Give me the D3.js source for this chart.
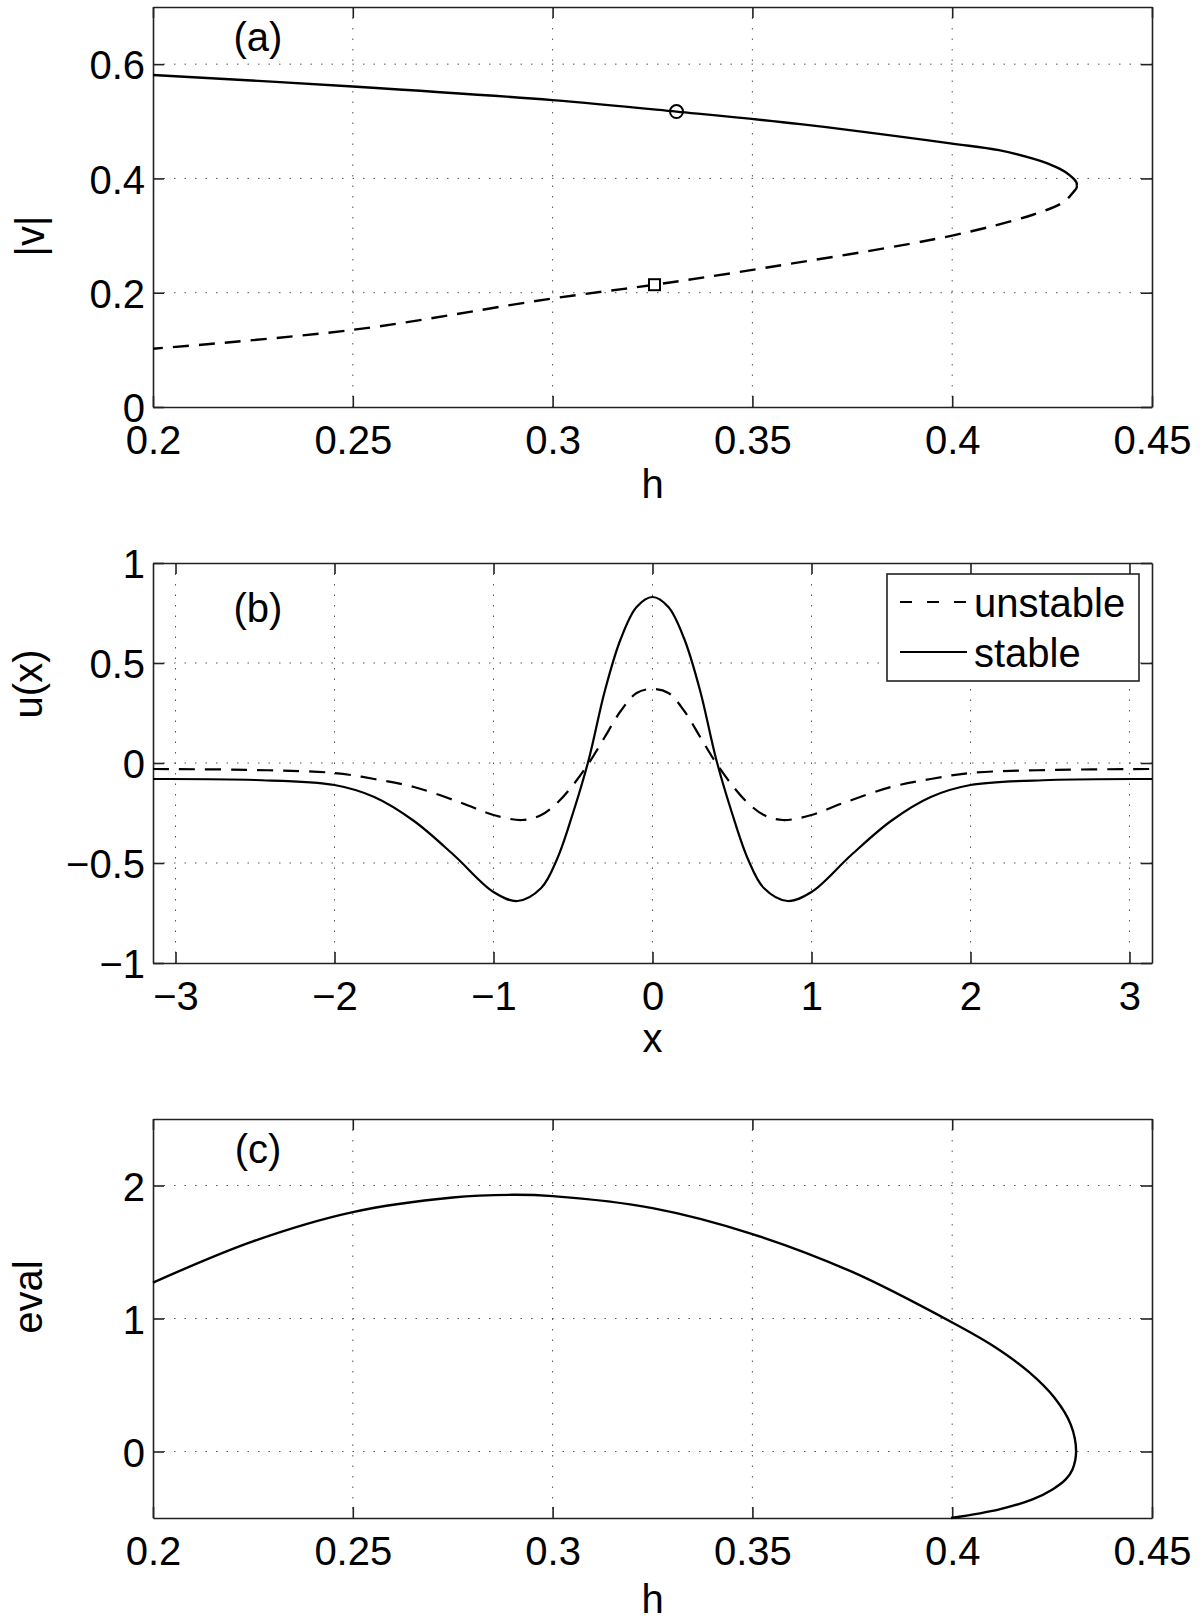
<!DOCTYPE html>
<html><head><meta charset="utf-8">
<script src="https://cdn.jsdelivr.net/npm/d3@7"></script>
<style>
html,body{margin:0;padding:0;background:#fff;}
svg{display:block;}
text{font-family:"Liberation Sans",Arial,Helvetica,sans-serif;fill:#000;}
</style></head><body>
<svg id="chart" width="1200" height="1621"></svg>
<script>
// ---- data ----
// panel (a): |v| versus h
const stableH = [0.2, 0.25, 0.3, 0.331, 0.362, 0.4, 0.4117, 0.42, 0.425, 0.4284, 0.4303, 0.4311, 0.4312];
const stableV = [0.581, 0.561, 0.537, 0.517, 0.495, 0.461, 0.4495, 0.435, 0.423, 0.411, 0.400, 0.393, 0.388];
const unstableH = [0.4312, 0.4311, 0.4303, 0.4292, 0.427, 0.42, 0.4, 0.35, 0.3255, 0.3, 0.25, 0.2];
const unstableV = [0.388, 0.383, 0.376, 0.367, 0.355, 0.336, 0.30, 0.24, 0.214, 0.19, 0.135, 0.102];
const markerCircle = [0.331, 0.517];
const markerSquare = [0.3255, 0.214];
const ticksA_x = [0.2, 0.25, 0.3, 0.35, 0.4, 0.45];
const ticksA_y = [0, 0.2, 0.4, 0.6];

// panel (b): u(x) profiles
const profX = [-3.1416, -2.5, -2, -1.75, -1.5, -1.25, -1, -0.85, -0.7, -0.6, -0.5, -0.4, -0.3, -0.2, -0.1, 0,
               0.1, 0.2, 0.3, 0.4, 0.5, 0.6, 0.7, 0.85, 1, 1.25, 1.5, 1.75, 2, 2.5, 3.1416];
const stableU = [-0.08, -0.085, -0.11, -0.17, -0.29, -0.46, -0.645, -0.69, -0.625, -0.48, -0.25, 0.02, 0.36, 0.62, 0.78, 0.83,
                 0.78, 0.62, 0.36, 0.02, -0.25, -0.48, -0.625, -0.69, -0.645, -0.46, -0.29, -0.17, -0.11, -0.085, -0.08];
const unstableX = [-3.1416, -2.5, -2, -1.75, -1.5, -1.2, -1, -0.82, -0.7, -0.6, -0.5, -0.4, -0.3, -0.2, -0.1, 0,
                   0.1, 0.2, 0.3, 0.4, 0.5, 0.6, 0.7, 0.82, 1, 1.2, 1.5, 1.75, 2, 2.5, 3.1416];
const unstableU = [-0.03, -0.035, -0.05, -0.08, -0.12, -0.2, -0.26, -0.285, -0.26, -0.2, -0.11, 0.0, 0.13, 0.26, 0.35, 0.37,
                   0.35, 0.26, 0.13, 0.0, -0.11, -0.2, -0.26, -0.285, -0.26, -0.2, -0.12, -0.08, -0.05, -0.035, -0.03];
const ticksB_x = [-3, -2, -1, 0, 1, 2, 3];
const ticksB_y = [-1, -0.5, 0, 0.5, 1];
const legendLabels = ["unstable", "stable"];

// panel (c): eigenvalue versus h
const evalH = [0.2, 0.225, 0.25, 0.275, 0.29, 0.3, 0.325, 0.35, 0.375, 0.4, 0.4099, 0.4191, 0.4257, 0.4297, 0.431,
               0.4301, 0.4284, 0.4251, 0.4201, 0.4118, 0.3997];
const evalV = [1.27, 1.58, 1.80, 1.91, 1.93, 1.92, 1.83, 1.635, 1.35, 0.97, 0.8, 0.6, 0.4, 0.2, 0,
               -0.135, -0.21, -0.285, -0.36, -0.435, -0.5];
const ticksC_x = [0.2, 0.25, 0.3, 0.35, 0.4, 0.45];
const ticksC_y = [0, 1, 2];

// ---- drawing ----
const svg = d3.select("#chart");
const FS = 40;
const L = 153, R = 1152;
const fmt = v => String(v).replace("-", "\u2212");

function panel(cfg) {
  const g = svg.append("g");
  const x = d3.scaleLinear().domain(cfg.xd).range([L, R]);
  const y = d3.scaleLinear().domain(cfg.yd).range([cfg.bottom, cfg.top]);
  // dotted grid
  const grid = g.append("g").attr("stroke", "#555").attr("stroke-width", 1).attr("stroke-dasharray", "1.5,9");
  cfg.xt.forEach(t => { if (Math.abs(x(t) - L) > 2 && Math.abs(x(t) - R) > 2)
    grid.append("line").attr("x1", x(t)).attr("x2", x(t)).attr("y1", cfg.top).attr("y2", cfg.bottom); });
  cfg.yt.forEach(t => { if (Math.abs(y(t) - cfg.top) > 2 && Math.abs(y(t) - cfg.bottom) > 2)
    grid.append("line").attr("x1", L).attr("x2", R).attr("y1", y(t)).attr("y2", y(t)); });
  // boxed axes with inward ticks
  const axB = d3.axisBottom(x).tickValues(cfg.xt).tickSizeInner(-11).tickSizeOuter(0).tickFormat(fmt);
  const axT = d3.axisTop(x).tickValues(cfg.xt).tickSizeInner(-11).tickSizeOuter(0).tickFormat("");
  const axL = d3.axisLeft(y).tickValues(cfg.yt).tickSizeInner(-11).tickSizeOuter(0).tickFormat(fmt);
  const axR = d3.axisRight(y).tickValues(cfg.yt).tickSizeInner(-11).tickSizeOuter(0).tickFormat("");
  const style = sel => { sel.selectAll("path,line").attr("stroke", "#222").attr("stroke-width", 1.6);
    sel.selectAll("text").attr("font-size", FS).attr("fill", "#000").attr("font-family", '"Liberation Sans",Arial,sans-serif'); };
  g.append("g").attr("transform", `translate(0,${cfg.bottom})`).call(axB).call(style)
    .selectAll(".tick text").attr("y", 47).attr("dy", 0);
  g.append("g").attr("transform", `translate(0,${cfg.top})`).call(axT).call(style);
  g.append("g").attr("transform", `translate(${L},0)`).call(axL).call(style)
    .selectAll(".tick text").attr("x", -8).attr("dy", "0.37em");
  g.append("g").attr("transform", `translate(${R},0)`).call(axR).call(style);
  // axis titles
  g.append("text").attr("x", (L + R) / 2).attr("y", cfg.xly).attr("text-anchor", "middle").attr("font-size", FS).text(cfg.xlabel);
  g.append("text").attr("transform", `translate(${cfg.ylx},${cfg.yly}) rotate(-90)`).attr("text-anchor", "middle").attr("font-size", FS).text(cfg.ylabel);
  // panel tag
  g.append("text").attr("x", 258).attr("y", cfg.tagy).attr("text-anchor", "middle").attr("font-size", FS).text(cfg.tag);
  return { g, x, y };
}

// Panel (a)
const A = panel({ xd: [0.2, 0.45], yd: [0, 0.7], top: 7, bottom: 407, xt: ticksA_x, yt: ticksA_y,
  xlabel: "h", xly: 498, ylabel: "|v|", ylx: 44, yly: 236, tag: "(a)", tagy: 51 });
const lineA = d3.line().x(d => A.x(d[0])).y(d => A.y(d[1])).curve(d3.curveCatmullRom.alpha(0.5));
A.g.append("path").attr("d", lineA(stableH.map((h, i) => [h, stableV[i]]))).attr("fill", "none").attr("stroke", "#000").attr("stroke-width", 2.4);
A.g.append("path").attr("d", lineA(unstableH.map((h, i) => [h, unstableV[i]]))).attr("fill", "none").attr("stroke", "#000").attr("stroke-width", 2.4).attr("stroke-dasharray", "16,10");
A.g.append("circle").attr("cx", A.x(markerCircle[0])).attr("cy", A.y(markerCircle[1])).attr("r", 6.5).attr("fill", "none").attr("stroke", "#000").attr("stroke-width", 2);
A.g.append("rect").attr("x", A.x(markerSquare[0]) - 5.5).attr("y", A.y(markerSquare[1]) - 5.5).attr("width", 11).attr("height", 11).attr("fill", "#fff").attr("stroke", "#000").attr("stroke-width", 2);

// Panel (b)
const B = panel({ xd: [-Math.PI, Math.PI], yd: [-1, 1], top: 563, bottom: 963, xt: ticksB_x, yt: ticksB_y,
  xlabel: "x", xly: 1052, ylabel: "u(x)", ylx: 42, yly: 684, tag: "(b)", tagy: 622 });
const lineB = d3.line().x(d => B.x(d[0])).y(d => B.y(d[1])).curve(d3.curveCatmullRom.alpha(0.5));
B.g.append("path").attr("d", lineB(unstableX.map((v, i) => [v, unstableU[i]]))).attr("fill", "none").attr("stroke", "#000").attr("stroke-width", 2.2).attr("stroke-dasharray", "16,10");
B.g.append("path").attr("d", lineB(profX.map((v, i) => [v, stableU[i]]))).attr("fill", "none").attr("stroke", "#000").attr("stroke-width", 2.2);
// legend
const lg = B.g.append("g");
lg.append("rect").attr("x", 887).attr("y", 574).attr("width", 252).attr("height", 107).attr("fill", "#fff").attr("stroke", "#222").attr("stroke-width", 1.6);
lg.append("line").attr("x1", 900).attr("x2", 967).attr("y1", 602).attr("y2", 602).attr("stroke", "#000").attr("stroke-width", 2).attr("stroke-dasharray", "12,15");
lg.append("line").attr("x1", 900).attr("x2", 967).attr("y1", 652).attr("y2", 652).attr("stroke", "#000").attr("stroke-width", 2);
lg.append("text").attr("x", 974).attr("y", 617).attr("font-size", FS).text(legendLabels[0]);
lg.append("text").attr("x", 974).attr("y", 667).attr("font-size", FS).text(legendLabels[1]);

// Panel (c)
const C = panel({ xd: [0.2, 0.45], yd: [-0.5, 2.5], top: 1119, bottom: 1518, xt: ticksC_x, yt: ticksC_y,
  xlabel: "h", xly: 1613, ylabel: "eval", ylx: 42, yly: 1297, tag: "(c)", tagy: 1163 });
const lineC = d3.line().x(d => C.x(d[0])).y(d => C.y(d[1])).curve(d3.curveCatmullRom.alpha(0.5));
C.g.append("path").attr("d", lineC(evalH.map((h, i) => [h, evalV[i]]))).attr("fill", "none").attr("stroke", "#000").attr("stroke-width", 2.4);
</script>
</body></html>
